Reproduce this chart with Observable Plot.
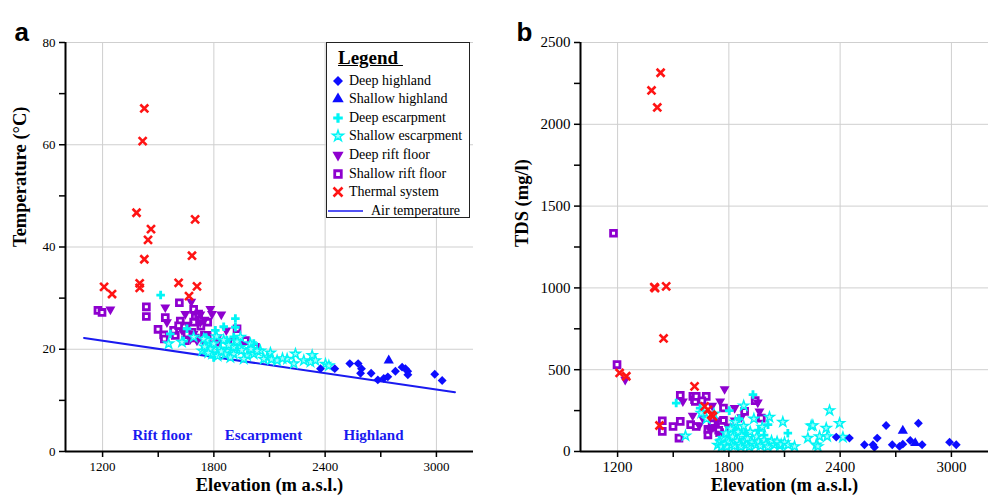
<!DOCTYPE html>
<html>
<head>
<meta charset="utf-8">
<script src="https://cdn.jsdelivr.net/npm/d3@7"></script>
<script src="https://cdn.jsdelivr.net/npm/@observablehq/plot@0.6"></script>
<style>
  body { margin: 0; background: #fff; }
  #wrap { position: relative; width: 990px; height: 501px; display: flex; font-family: "Liberation Serif", "Times New Roman", serif; }
  #wrap svg { display: block; }
  .legend { position: absolute; left: 326px; top: 42px; width: 144px; height: 176px; border: 1.6px solid #222; background: #fff; box-sizing: border-box; }
  .legend .ttl { position: absolute; left: 11px; top: 4px; font-weight: bold; font-size: 19px; text-decoration: underline; white-space: pre; }
  .legend .row { position: absolute; left: 0; height: 18px; display: flex; align-items: center; font-size: 14px; white-space: nowrap; }
  .legend .row svg { flex: none; }
</style>
</head>
<body>
<div id="wrap"></div>
<script>
// ---------------- DATA ----------------
const xTicks = [1200, 1500, 1800, 2100, 2400, 2700, 3000];
const xTickLabels = [1200, 1800, 2400, 3000];
const tempTicks = [0, 10, 20, 30, 40, 50, 60, 70, 80];
const tempTickLabels = [0, 20, 40, 60, 80];
const tdsTicks = [0, 250, 500, 750, 1000, 1250, 1500, 1750, 2000, 2250, 2500];
const tdsTickLabels = [0, 500, 1000, 1500, 2000, 2500];

const seriesNames = ["Deep highland", "Shallow highland", "Deep escarpment", "Shallow escarpment", "Deep rift floor", "Shallow rift floor", "Thermal system", "Air temperature"];
const zoneNames = ["Rift floor", "Escarpment", "Highland"];
const zoneCenters = [1522, 2067, 2661];

// Air temperature line [elevation, °C]
const airTemp = [[1100, 22.2], [3100, 11.6]];

// Panel a: [elevation m, temperature °C]
const deepHighlandA = [[2375,16.2],[2452,16.2],[2533,17.2],[2578,17.2],[2596,16.2],[2591,15.3],[2648,15.3],[2684,14.0],[2716,14.3],[2738,14.6],[2779,15.7],[2815,16.5],[2833,16.2],[2845,15.7],[2846,15.0],[2991,15.1],[3031,13.9]];
const shallowHighlandA = [[2743,17.8]];
const deepEscarpmentA = [[1513,30.6],[1916,26.0],[1916,24.3],[1853,24.4],[1808,23.7],[1655,24.0],[1565,23.0],[1637,21.6],[1907,22.4],[2015,21.1],[1799,18.4],[1870,21.8],[1755,22.3]];
const shallowEscarpmentA = [[1737,19.7],[1763,20.4],[1799,21.1],[1835,20.1],[1870,19.7],[1907,19.1],[1943,20.4],[1979,18.8],[2015,19.1],[2051,19.7],[2087,18.4],[2105,19.3],[2141,17.8],[2195,18.1],[2240,19.1],[2231,17.2],[2285,17.8],[2321,17.5],[2330,18.8],[2348,17.8],[2402,17.1],[2420,16.8],[1763,21.8],[1817,19.1],[1889,18.4],[1961,18.1],[2033,19.7],[1745,22.0],[1853,21.8],[1943,22.4],[1997,21.1],[1790,19.1],[1907,20.4],[1691,22.4],[1628,21.4],[1556,21.1],[2069,18.1],[1780,20.0],[1820,18.7],[1860,19.0],[1925,21.5],[1950,19.8],[2000,20.0],[1750,20.5],[1880,20.8],[2110,18.0],[2170,18.2],[1815,22.5],[1840,19.6],[1770,19.3]];
const deepRiftA = [[1242,27.8],[1538,28.2],[1547,25.3],[1646,26.9],[1678,29.3],[1727,26.8],[1781,27.9],[1790,26.9],[1840,26.8],[1867,23.7],[1628,23.7],[1727,25.3],[1760,23.0],[1709,21.7],[1799,21.1],[1673,22.0],[1690,23.0],[1745,21.5],[1820,22.3],[1750,25.8],[1660,24.8]];
const shallowRiftA = [[1175,27.6],[1197,27.2],[1436,28.3],[1436,26.4],[1499,23.9],[1529,22.8],[1533,22.0],[1538,26.2],[1614,29.1],[1619,25.5],[1592,22.7],[1583,23.7],[1691,27.8],[1700,26.3],[1718,26.9],[1691,25.3],[1646,21.7],[1682,23.3],[1749,22.7],[1925,24.0],[1970,21.7],[2024,20.4],[1764,22.5],[1817,21.4],[1655,23.0],[1610,24.6],[1907,21.4],[1767,25.3],[1730,24.5],[1700,22.2]];
const thermalA = [[1425,67.1],[1416,60.7],[1383,46.7],[1461,43.5],[1445,41.4],[1425,37.6],[1400,32.9],[1400,32.0],[1208,32.2],[1251,30.8],[1699,45.4],[1682,38.3],[1610,33.0],[1709,32.3],[1666,30.4]];

// Panel b: [elevation m, TDS mg/l]
const deepHighlandB = [[2379,88],[2450,82],[2531,41],[2577,41],[2585,26],[2600,82],[2648,159],[2681,41],[2720,31],[2738,45],[2778,67],[2822,173],[2842,41],[2990,57],[3026,41]];
const shallowHighlandB = [[2738,127],[2805,51]];
const deepEscarpmentB = [[1516,296],[1660,245],[1930,348],[2011,164],[2118,112],[1990,100],[1855,200],[1802,250],[1890,115],[1837,135],[1750,70],[1800,95],[1960,130],[1645,265]];
const shallowEscarpmentB = [[1740,40],[1755,60],[1760,30],[1770,80],[1780,45],[1785,110],[1790,30],[1800,60],[1810,140],[1815,40],[1820,90],[1830,35],[1835,180],[1845,65],[1850,120],[1860,45],[1865,30],[1870,95],[1880,155],[1885,60],[1895,40],[1900,80],[1910,30],[1915,120],[1925,55],[1935,200],[1945,40],[1950,90],[1960,60],[1970,35],[1980,150],[1990,70],[2000,45],[2010,30],[2019,210],[2030,65],[2045,40],[2060,60],[2075,35],[2082,43],[2091,180],[2100,55],[2120,40],[2154,31],[2226,82],[2244,157],[2253,159],[2271,41],[2280,31],[2289,92],[2325,143],[2330,92],[2343,251],[2397,173],[2415,88],[1566,96],[1651,235],[1720,230],[1680,200],[1880,280]];
const deepRiftB = [[1241,439],[1552,307],[1777,382],[1753,307],[1710,280],[1831,266],[1965,245],[1737,190],[1795,153],[1831,190],[1659,204],[1750,110],[1715,150],[1867,210],[1956,300],[1605,220],[1640,160],[1700,130]];
const shallowRiftB = [[1178,1334],[1197,531],[1441,188],[1441,123],[1538,343],[1538,184],[1499,153],[1531,82],[1606,337],[1615,317],[1619,306],[1678,337],[1624,337],[1594,164],[1624,153],[1687,102],[1687,135],[1771,266],[1771,190],[1885,245],[1942,311],[1975,204],[1728,150],[1750,115],[1655,310],[1710,170],[1745,130]];
const thermalB = [[1432,2315],[1383,2207],[1414,2103],[1402,999],[1398,1005],[1462,1009],[1448,691],[1211,480],[1247,460],[1615,398],[1426,159],[1669,276],[1687,255],[1705,225],[1714,215]];

// ---------------- STYLE ----------------
const BLUE = "#0d0dff", CYAN = "#00f5f5", PURPLE = "#8e00cf", RED = "#ff1414", LINE = "#1a1af0";
const FONT = '"Liberation Serif","Times New Roman",serif';
const triangleDown = {
  draw(context, size) {
    const s3 = Math.sqrt(3);
    const y = -Math.sqrt(size / (s3 * 3));
    context.moveTo(0, -y * 2);
    context.lineTo(-s3 * y, y);
    context.lineTo(s3 * y, y);
    context.closePath();
  }
};
const sty = {
  deepHighland: {symbol: "diamond2", r: 4, fill: BLUE, stroke: "none"},
  shallowHighland: {symbol: "triangle", r: 3.8, fill: BLUE, stroke: "none"},
  deepEsc: {symbol: "cross", r: 3.6, fill: CYAN, stroke: "none"},
  shallowEsc: {symbol: "star", r: 3.1, fill: "#9ffcfc", stroke: CYAN, strokeWidth: 1.4},
  deepRift: {symbol: triangleDown, r: 3.7, fill: PURPLE, stroke: "none"},
  shallowRift: {symbol: "square", r: 3.3, fill: "white", stroke: PURPLE, strokeWidth: 2.8},
  thermal: {symbol: "times", r: 3.7, fill: "none", stroke: RED, strokeWidth: 2.6}
};
const P = {x: d => d[0], y: d => d[1]};

function panel(cfg) {
  return Plot.plot({
    width: 495, height: 501,
    marginLeft: cfg.ml, marginRight: cfg.mr, marginTop: 42, marginBottom: 50,
    style: {fontFamily: FONT, background: "white", overflow: "visible", color: "black"},
    x: {domain: [1000, 3200]},
    y: {domain: cfg.yDomain},
    marks: [
      Plot.gridX(xTickLabels, {stroke: "#cfcfcf", strokeOpacity: 1, strokeWidth: 1}),
      Plot.gridY(cfg.yLabels.filter(d => d > 0), {stroke: "#cfcfcf", strokeOpacity: 1, strokeWidth: 1}),
      ...cfg.extraBack,
      Plot.dot(cfg.shallowRift, {...P, ...sty.shallowRift}),
      Plot.dot(cfg.deepRift, {...P, ...sty.deepRift}),
      Plot.dot(cfg.deepEsc, {...P, ...sty.deepEsc}),
      Plot.dot(cfg.shallowEsc, {...P, ...sty.shallowEsc}),
      Plot.dot(cfg.deepHighland, {...P, ...sty.deepHighland}),
      Plot.dot(cfg.shallowHighland, {...P, ...sty.shallowHighland}),
      Plot.dot(cfg.thermal, {...P, ...sty.thermal}),
      ...cfg.extraFront,
      Plot.ruleY([cfg.yDomain[0]], {stroke: "black", strokeWidth: 2}),
      Plot.ruleX([1000], {stroke: "black", strokeWidth: 2}),
      Plot.axisX(xTicks, {tickSize: 6, tickPadding: 4, tickFormat: d => xTickLabels.includes(d) ? String(d) : "", fontSize: cfg.fs, label: null, stroke: "black", fill: "black", strokeWidth: 1.5}),
      Plot.axisY(cfg.yTicks, {tickSize: 6, tickPadding: 4, tickFormat: d => cfg.yLabels.includes(d) ? String(d) : "", fontSize: cfg.fs, label: null, stroke: "black", fill: "black", strokeWidth: 1.5}),
      Plot.text(["Elevation (m a.s.l.)"], {frameAnchor: "bottom", dy: 39, fontSize: 18.5, fontWeight: "bold", fill: "black"}),
      Plot.text([cfg.yTitle], {frameAnchor: "left", dx: cfg.ytdx, rotate: -90, fontSize: 18.5, fontWeight: "bold", fill: "black"}),
      Plot.text([cfg.tag], {frameAnchor: "top-left", dx: cfg.tagdx, dy: -20, fontSize: 26, fontWeight: "bold", fill: "black", fontFamily: '"Liberation Sans",Arial,sans-serif'})
    ]
  });
}

const wrap = document.getElementById("wrap");

const chartA = panel({
  ml: 65, mr: 22, fs: 13,
  yDomain: [0, 80], yTicks: tempTicks, yLabels: tempTickLabels,
  yTitle: "Temperature (°C)", ytdx: -45, tag: "a", tagdx: -51,
  deepHighland: deepHighlandA, shallowHighland: shallowHighlandA, deepEsc: deepEscarpmentA,
  shallowEsc: shallowEscarpmentA, deepRift: deepRiftA, shallowRift: shallowRiftA, thermal: thermalA,
  extraBack: [
    Plot.line(airTemp, {x: d => d[0], y: d => d[1], stroke: LINE, strokeWidth: 2})
  ],
  extraFront: [
    Plot.text(zoneNames, {x: zoneCenters, frameAnchor: "bottom", dy: -12, fontSize: 15, fontWeight: "bold", fill: LINE})
  ]
});
const chartB = panel({
  ml: 85, mr: 2, fs: 15,
  yDomain: [0, 2500], yTicks: tdsTicks, yLabels: tdsTickLabels,
  yTitle: "TDS (mg/l)", ytdx: -58, tag: "b", tagdx: -64,
  deepHighland: deepHighlandB, shallowHighland: shallowHighlandB, deepEsc: deepEscarpmentB,
  shallowEsc: shallowEscarpmentB, deepRift: deepRiftB, shallowRift: shallowRiftB, thermal: thermalB,
  extraBack: [], extraFront: []
});
wrap.appendChild(chartA);
wrap.appendChild(chartB);

// ---------------- LEGEND ----------------
const legend = document.createElement("div");
legend.className = "legend";
const ttl = document.createElement("div");
ttl.className = "ttl";
ttl.textContent = "Legend ";
legend.appendChild(ttl);
const legendStyles = [sty.deepHighland, sty.shallowHighland, sty.deepEsc, sty.shallowEsc, sty.deepRift, sty.shallowRift, sty.thermal, null];
const d3Sym = {diamond2: d3.symbolDiamond2, triangle: d3.symbolTriangle, cross: d3.symbolCross, star: d3.symbolStar, square: d3.symbolSquare, times: d3.symbolTimes};
seriesNames.forEach((name, i) => {
  const row = document.createElement("div");
  row.className = "row";
  row.style.top = (28.5 + i * 18.6) + "px";
  const s = legendStyles[i];
  const sv = d3.create("svg").attr("width", s ? 22 : 40).attr("height", 18);
  if (s) {
    const type = typeof s.symbol === "string" ? d3Sym[s.symbol] : s.symbol;
    const r = s.r * 1.12;
    sv.append("path")
      .attr("transform", "translate(11,9)")
      .attr("d", d3.symbol(type, Math.PI * r * r)())
      .attr("fill", s.fill).attr("stroke", s.stroke).attr("stroke-width", s.strokeWidth || 0);
  } else {
    sv.append("line").attr("x1", 1).attr("x2", 36).attr("y1", 9).attr("y2", 9).attr("stroke", LINE).attr("stroke-width", 1.6);
  }
  row.appendChild(sv.node());
  const t = document.createElement("span");
  t.textContent = name;
  t.style.marginLeft = s ? "0px" : "4px";
  row.appendChild(t);
  legend.appendChild(row);
});
wrap.appendChild(legend);
</script>
</body>
</html>
